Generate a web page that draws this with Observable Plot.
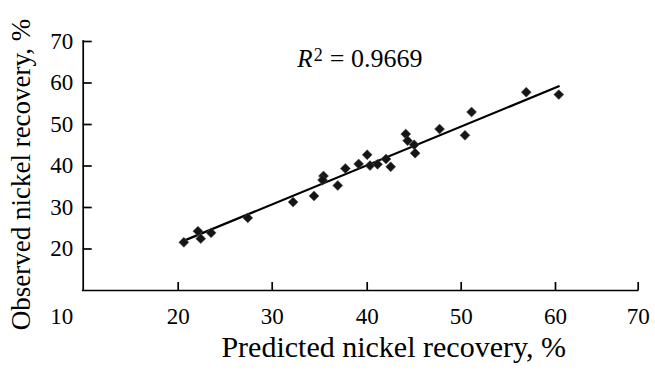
<!DOCTYPE html>
<html>
<head>
<meta charset="utf-8">
<script src="https://cdn.jsdelivr.net/npm/d3@7"></script>
<script src="https://cdn.jsdelivr.net/npm/@observablehq/plot@0.6"></script>
<style>
  html, body { margin: 0; padding: 0; background: #fff; }
  svg text { font-family: 'Liberation Serif', 'Times New Roman', 'DejaVu Serif', serif !important; }
</style>
</head>
<body>
<div id="chart"></div>
<script>
// ---- data ----
const predicted = [20.6, 22.1, 22.4, 23.5, 27.4, 32.2, 34.4, 35.4, 35.3, 36.9, 37.7, 39.1, 40.0, 40.3, 41.1, 42.0, 42.5, 44.1, 44.3, 45.0, 45.1, 47.7, 50.4, 51.1, 56.9, 60.4];
const observed  = [21.6, 24.3, 22.5, 23.9, 27.5, 31.3, 32.8, 37.6, 36.6, 35.3, 39.4, 40.5, 42.7, 40.1, 40.4, 41.7, 39.8, 47.7, 46.1, 45.1, 43.1, 48.9, 47.4, 53.0, 57.8, 57.2];
const fitX = [20.5, 60.4];
const fitY = [21.9, 59.2];
const xTicks = [20, 30, 40, 50, 60, 70];
const yTicks = [20, 30, 40, 50, 60, 70];
const axisMin = 10;
const originLabel = "10";
const xTitle = "Predicted nickel recovery, %";
const yTitle = "Observed nickel recovery, %";
const r2Symbol = "R";
const r2Power = "2";
const r2Value = "= 0.9669";

const points = predicted.map((x, i) => ({x, y: observed[i]}));
const fit = fitX.map((x, i) => ({x, y: fitY[i]}));

const serif = "'Liberation Serif', 'Times New Roman', 'DejaVu Serif', serif";

const chart = Plot.plot({
  width: 655,
  height: 370,
  marginLeft: 82.7,
  marginRight: 17.3,
  marginTop: 41,
  marginBottom: 80,
  style: {fontFamily: serif, fontSize: "23px", background: "#fff", color: "#000", overflow: "visible"},
  x: {type: "linear", domain: [axisMin, ...xTicks], range: [82.7, 177.7, 271.7, 366.7, 460.7, 555, 637.7]},
  y: {type: "linear", domain: [axisMin, yTicks[yTicks.length - 1]]},
  marks: [
    // axis lines
    Plot.ruleY([axisMin], {stroke: "#000", strokeWidth: 1.7, strokeLinecap: "square"}),
    Plot.ruleX([axisMin], {stroke: "#000", strokeWidth: 1.7, strokeLinecap: "square"}),
    // inward ticks
    Plot.tickX(xTicks, {x: d => d, insetTop: 241, stroke: "#000", strokeWidth: 1.7}),
    Plot.tickY(yTicks, {y: d => d, insetRight: 546, stroke: "#000", strokeWidth: 1.7}),
    // tick labels
    Plot.axisX({ticks: xTicks, tickSize: 0, tickPadding: 16.7, label: null, fontSize: 23, fontFamily: serif, fill: "#000"}),
    Plot.axisY({ticks: yTicks, tickSize: 0, tickPadding: 10, label: null, fontSize: 23, fontFamily: serif, fill: "#000"}),
    Plot.text([originLabel], {x: axisMin, y: axisMin, text: d => d, textAnchor: "end", lineAnchor: "top", dx: -10, dy: 16.7, fontSize: 23, fontFamily: serif}),
    // axis titles
    Plot.text([xTitle], {frameAnchor: "bottom", text: d => d, lineAnchor: "bottom", textAnchor: "middle", dx: 33, dy: 66, fontSize: 30, fontFamily: serif}),
    Plot.text([yTitle], {frameAnchor: "left", text: d => d, rotate: -90, lineAnchor: "bottom", textAnchor: "middle", dx: -53, dy: 8.5, fontSize: 27, fontFamily: serif}),
    // fitted line
    Plot.line(fit, {x: "x", y: "y", stroke: "#000", strokeWidth: 2.2}),
    // observations
    Plot.dot(points, {x: "x", y: "y", symbol: "diamond2", r: 4.5, fill: "#151515", stroke: "#555", strokeWidth: 1, strokeOpacity: 0.55}),
    // R² annotation
    Plot.text([r2Symbol], {frameAnchor: "top-left", text: d => d, textAnchor: "start", lineAnchor: "bottom", dx: 214, dy: 25.7, fontSize: 25, fontStyle: "italic", fontFamily: serif}),
    Plot.text([r2Power], {frameAnchor: "top-left", text: d => d, textAnchor: "start", lineAnchor: "bottom", dx: 230.6, dy: 19, fontSize: 18, fontFamily: serif}),
    Plot.text([r2Value], {frameAnchor: "top-left", text: d => d, textAnchor: "start", lineAnchor: "bottom", dx: 246.6, dy: 25.7, fontSize: 26, fontFamily: serif})
  ]
});
document.getElementById("chart").appendChild(chart);
</script>
</body>
</html>
